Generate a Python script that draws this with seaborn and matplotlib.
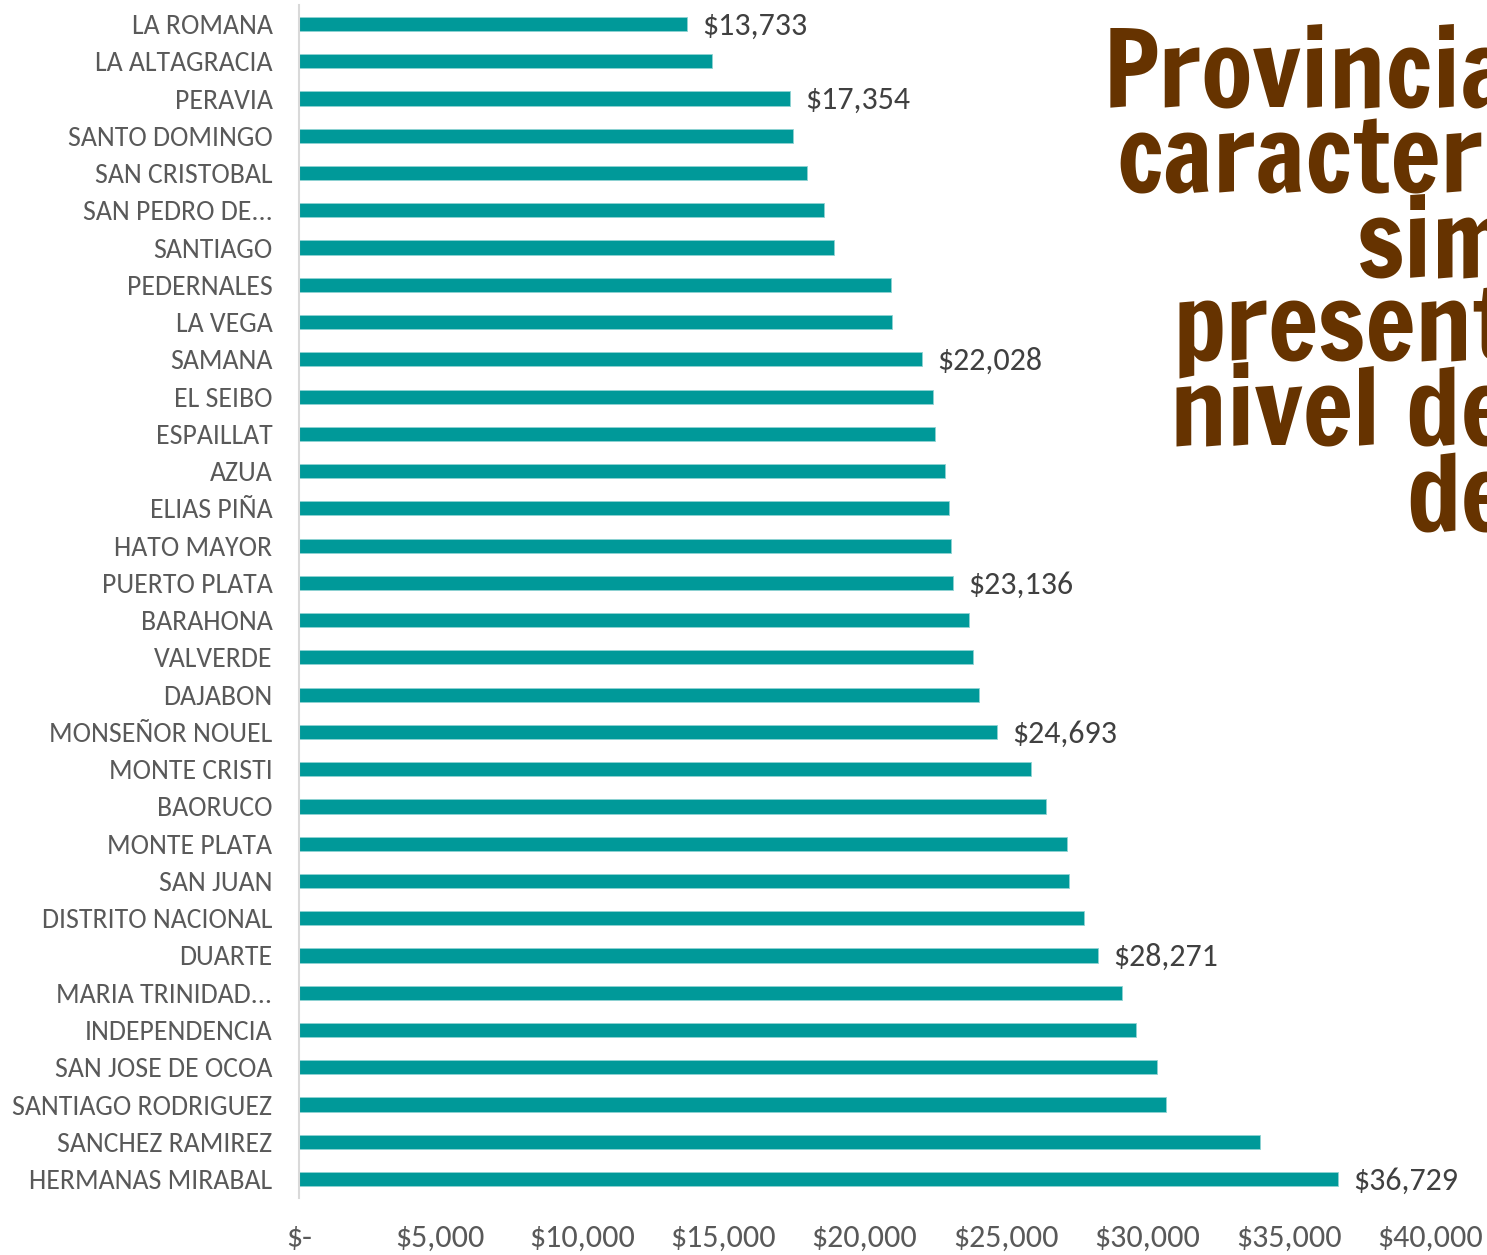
import numpy as np
import pandas as pd
import seaborn as sns
import matplotlib.pyplot as plt
from matplotlib.ticker import FuncFormatter

provincias = [
    "LA ROMANA", "LA ALTAGRACIA", "PERAVIA", "SANTO DOMINGO", "SAN CRISTOBAL",
    "SAN PEDRO DE...", "SANTIAGO", "PEDERNALES", "LA VEGA", "SAMANA",
    "EL SEIBO", "ESPAILLAT", "AZUA", "ELIAS PIÑA", "HATO MAYOR",
    "PUERTO PLATA", "BARAHONA", "VALVERDE", "DAJABON", "MONSEÑOR NOUEL",
    "MONTE CRISTI", "BAORUCO", "MONTE PLATA", "SAN JUAN", "DISTRITO NACIONAL",
    "DUARTE", "MARIA TRINIDAD...", "INDEPENDENCIA", "SAN JOSE DE OCOA",
    "SANTIAGO RODRIGUEZ", "SANCHEZ RAMIREZ", "HERMANAS MIRABAL",
]
valores = [
    13733, 14600, 17354, 17470, 17960,
    18560, 18920, 20930, 20970, 22028,
    22420, 22490, 22840, 22980, 23050,
    23136, 23690, 23830, 24050, 24693,
    25880, 26410, 27160, 27230, 27760,
    28271, 29100, 29600, 30340,
    30660, 33980, 36729,
]
# provinces whose value is printed next to the bar
etiquetadas = ["LA ROMANA", "PERAVIA", "SAMANA", "PUERTO PLATA",
               "MONSEÑOR NOUEL", "DUARTE", "HERMANAS MIRABAL"]

titulo = ["Provincia", "caracterí", "sim", "present", "nivel de", "de"]

df = pd.DataFrame({"provincia": provincias, "valor": valores})

sns.set_style("white")
plt.rcParams["font.family"] = ["Carlito", "DejaVu Sans"]

fig = plt.figure(figsize=(14.87, 12.55), dpi=100)
ax = fig.add_axes([0.201, 0.0457, 0.7607, 0.95])

sns.barplot(data=df, x="valor", y="provincia", orient="h", color="#009999",
            saturation=1, width=0.38, edgecolor="#8fd3d3", linewidth=0.6, ax=ax)

ax.set_xlim(0, 40000)
ax.set_ylim(len(provincias) - 0.5, -0.5)
ax.set_xticks(np.arange(0, 40001, 5000))
ax.xaxis.set_major_formatter(FuncFormatter(lambda v, p: "$-" if v == 0 else f"${v:,.0f}"))
ax.tick_params(axis="x", length=0, pad=19, labelsize=23, labelcolor="#595959")
ax.tick_params(axis="y", length=0, pad=19, labelsize=20, labelcolor="#595959")
ax.set_xlabel("")
ax.set_ylabel("")
for s in ["top", "right", "bottom"]:
    ax.spines[s].set_visible(False)
ax.spines["left"].set_color("#d9d9d9")
ax.spines["left"].set_linewidth(1.5)

for i, (prov, val) in enumerate(zip(provincias, valores)):
    if prov in etiquetadas:
        ax.annotate(f"${val:,.0f}", (val, i), xytext=(11, -1),
                    textcoords="offset points", ha="left", va="center",
                    fontsize=23, color="#404040")

# big title, cut off at the right edge like in the original
ys = [107, 192, 277, 360, 445, 530]
for linea, y in zip(titulo, ys):
    fig.text(1.016, 1 - y / 1255, linea, ha="right", va="baseline",
             fontsize=76, color="#663300", family=["Francois One", "DejaVu Sans"])

fig.savefig("out.png", dpi=100)
